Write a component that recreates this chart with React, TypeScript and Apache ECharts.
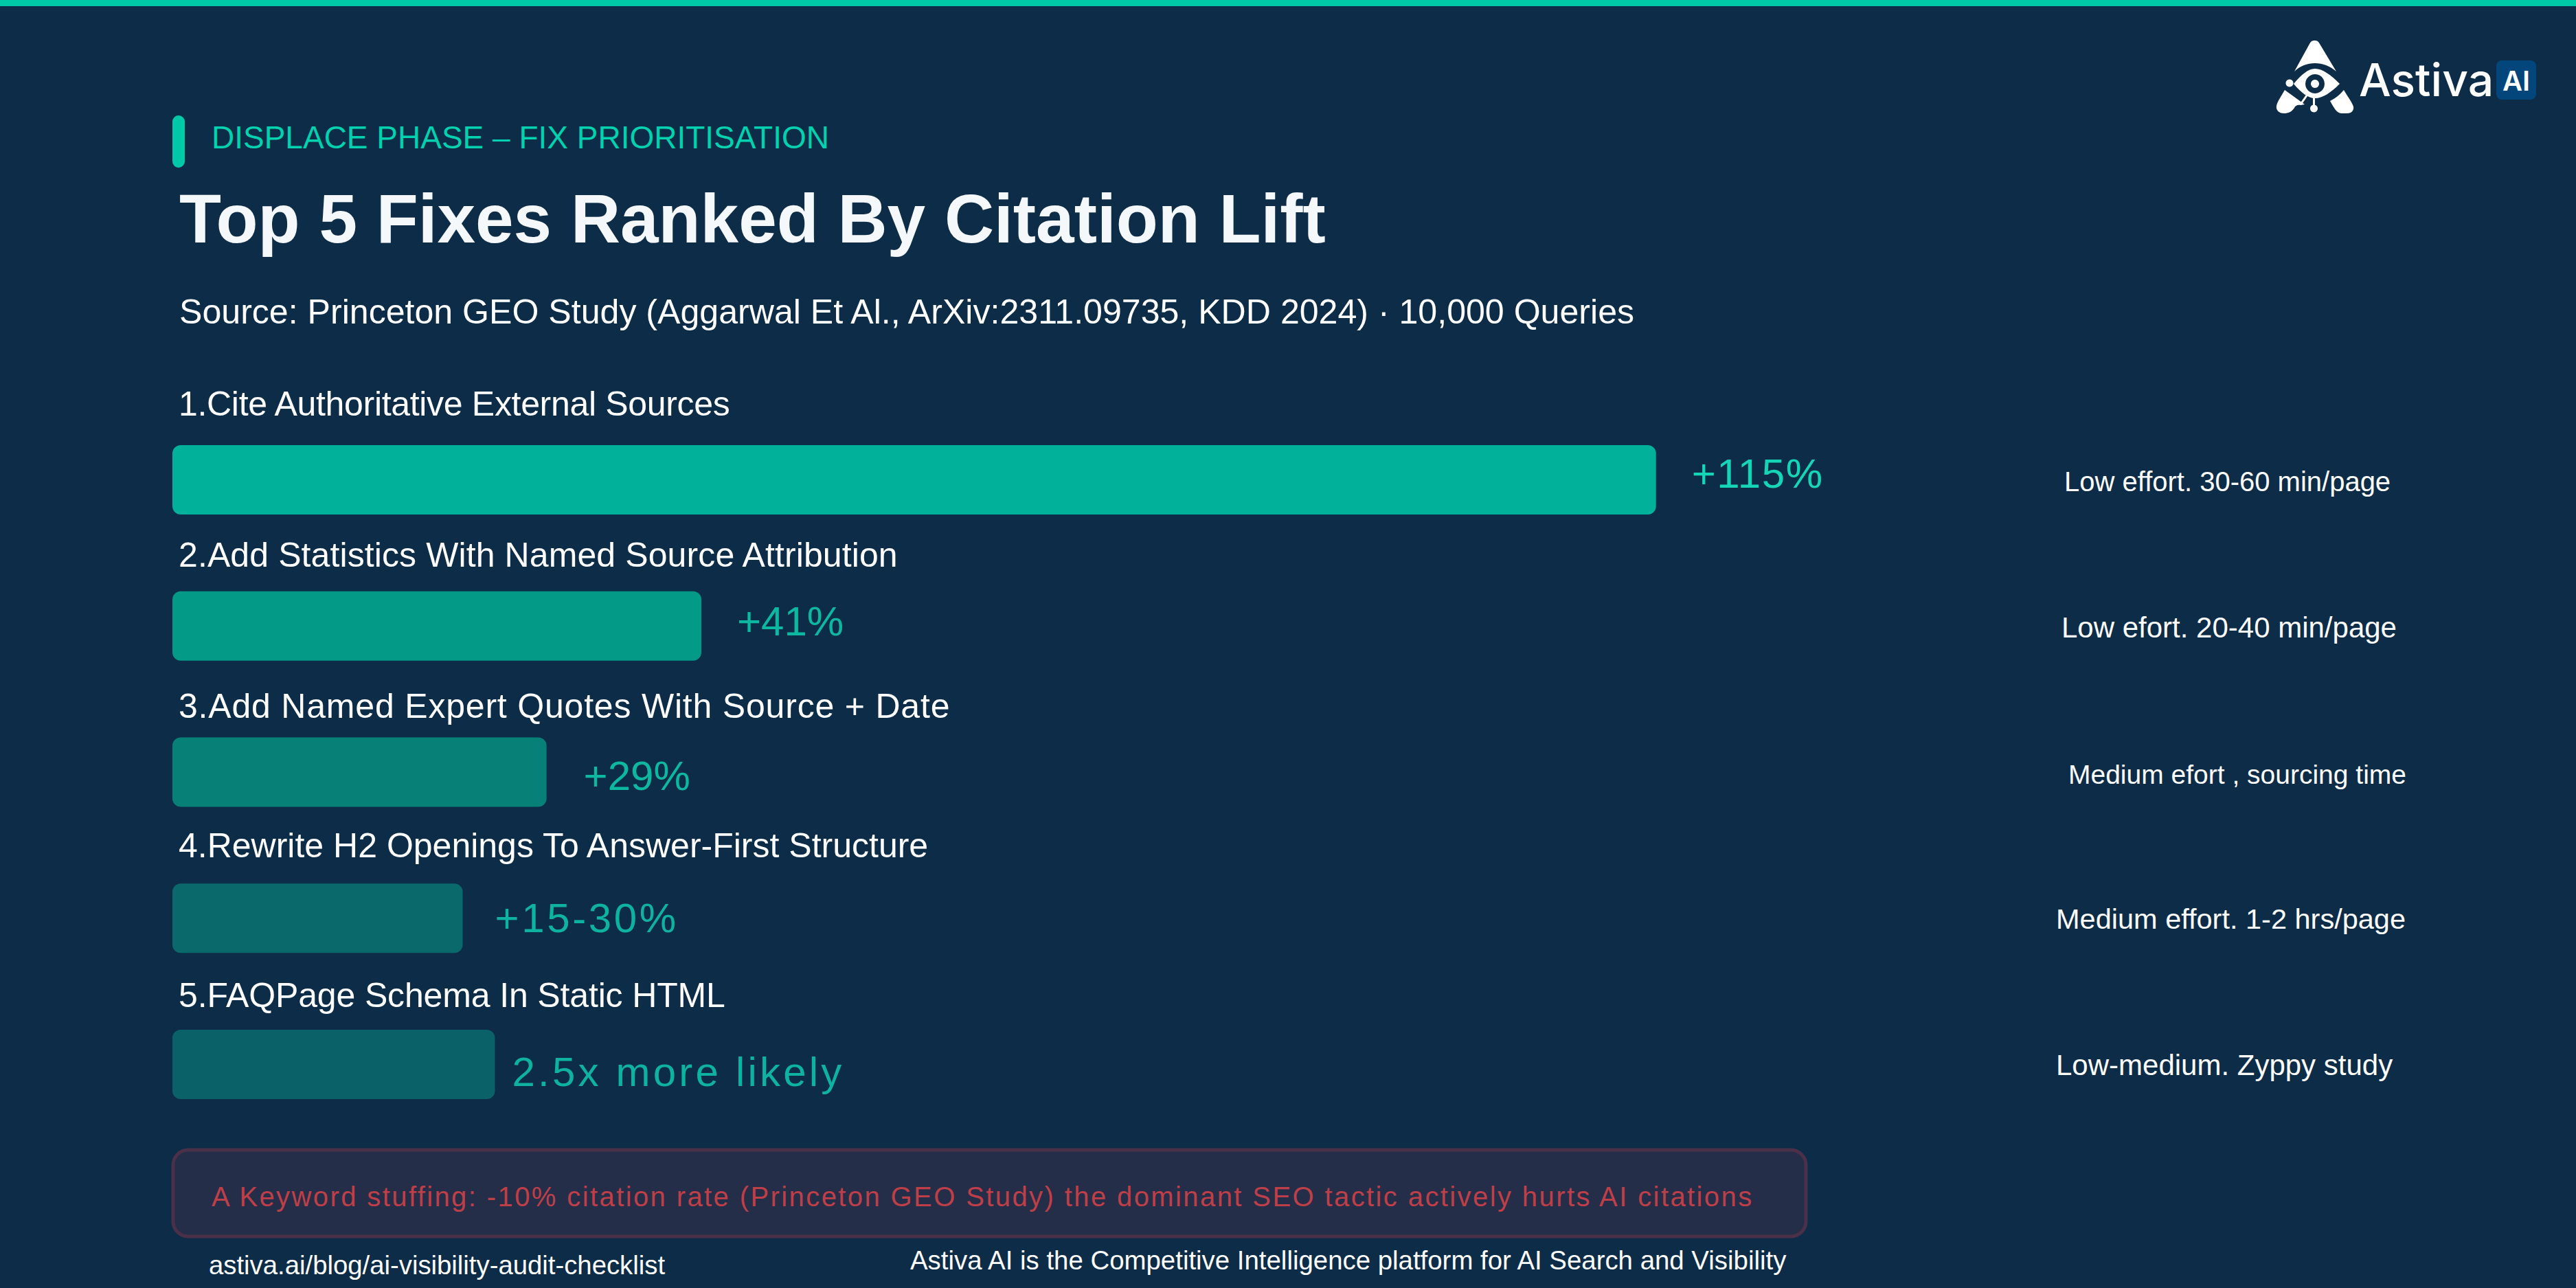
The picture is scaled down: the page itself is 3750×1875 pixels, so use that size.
import React, { useEffect, useRef } from "react";
import * as echarts from "echarts";

const categories = [
  "1.Cite Authoritative External Sources",
  "2.Add Statistics With Named Source Attribution",
  "3.Add Named Expert Quotes With Source + Date",
  "4.Rewrite H2 Openings To Answer-First Structure",
  "5.FAQPage Schema In Static HTML",
];
const barValues = [115, 41, 29, 22.5, 25];
const valueLabels = ["+115%", "+41%", "+29%", "+15-30%", "2.5x more likely"];
const effortNotes = [
  "Low effort. 30-60 min/page",
  "Low efort. 20-40 min/page",
  "Medium efort , sourcing time",
  "Medium effort. 1-2 hrs/page",
  "Low-medium. Zyppy study",
];

// layout, kept apart from the values
const barColors = ["#02B199", "#039B88", "#078178", "#09696B", "#0A6268"];
const labelColors = ["#14D6B6", "#0DB8A0", "#0DB8A0", "#0DB39E", "#0DB39E"];
const labelGaps = [52, 52, 54, 47, 25];
const labelShifts = [-9, -7, 5, 0, 11];
const titleY = [588, 808, 1028, 1231, 1449];
const noteX = [3005, 3001, 3011, 2993, 2993];
const noteY = [701, 913, 1127, 1337, 1550];
const noteSizes = [40, 42, 39, 41.5, 42];

const ALERT = "A Keyword stuffing: -10% citation rate (Princeton GEO Study) the dominant SEO tactic actively hurts AI citations";

const spacing: Record<string, number> = {
  "+115%": 1.6,
  "+15-30%": 3.6,
  "2.5x more likely": 4.2,
  [categories[0]]: -0.32,
  [categories[1]]: 0.1,
  [categories[2]]: 0.8,
  [categories[4]]: -0.15,
  [ALERT]: 2.4,
};

const BG = "#0D2C47";
const SANS = '"Liberation Sans", Arial, sans-serif';

const logoPath =
  "M3369.5 59 C3373 59 3375 60 3377 64 L3401 104 C3392 96 3381 92 3370 92 C3359 92 3348 96 3340 104 L3362 64 C3364 60 3366 59 3369.5 59 Z " +
  "M3339 122 C3350 109 3360 100 3370 100 C3381 100 3393 109 3406 122 C3393 135 3381 143 3370 143 C3360 143 3350 135 3339 122 Z " +
  "M3326 131 L3355 152 L3349 153 C3345 152 3341 154 3340 157 C3336 163 3331 165 3325 165 C3317 165 3313 160 3314 154 C3315 148 3321 140 3326 131 Z " +
  "M3412 131 C3418 141 3424 149 3426 155 C3427 161 3423 165 3417 165 L3409 165 C3403 165 3399 160 3392 147 C3400 143 3406 138 3412 131 Z";
echarts.graphic.registerShape("astivaMark", echarts.graphic.extendPath(logoPath, {}));

const label = (text: string, x: number, y: number, size: number, fill: string, weight = "normal", family = SANS) => ({
  type: "text",
  silent: true,
  style: { text, x, y, fill, fontSize: size, fontWeight: weight, fontFamily: family, textVerticalAlign: "middle" },
});

export default function App() {
  const chartRef = useRef<HTMLDivElement>(null);

  useEffect(() => {
    if (!chartRef.current) return;
    const chart = echarts.init(chartRef.current, undefined, { renderer: "svg" });

    chart.setOption({
      animation: false,
      backgroundColor: BG,
      grid: { left: 251, top: 592, width: 2817, height: 1064 },
      xAxis: { type: "value", min: 0, max: 150, show: false },
      yAxis: { type: "category", inverse: true, data: categories, show: false },
      series: [
        {
          type: "bar",
          barWidth: 101,
          data: barValues.map((value, i) => ({
            value,
            itemStyle: { color: barColors[i], borderRadius: 12 },
            label: {
              show: true,
              position: "right",
              distance: labelGaps[i],
              offset: [0, labelShifts[i]],
              formatter: valueLabels[i],
              color: labelColors[i],
              fontSize: 60,
              fontFamily: SANS,
            },
          })),
        },
      ],
      graphic: [
        { type: "rect", silent: true, shape: { x: 0, y: 0, width: 3750, height: 9 }, style: { fill: "#00C9A7" } },
        { type: "rect", silent: true, shape: { x: 251, y: 168, width: 18, height: 76, r: 9 }, style: { fill: "#00C9A7" } },
        label("DISPLACE PHASE – FIX PRIORITISATION", 308, 200, 46, "#00D1AE"),
        label("Top 5 Fixes Ranked By Citation Lift", 261, 318, 99.9, "#F5F8FA", "bold"),
        label("Source: Princeton GEO Study (Aggarwal Et Al., ArXiv:2311.09735, KDD 2024) · 10,000 Queries", 261, 454, 50.1, "#FFFFFF"),
        ...categories.map((c, i) => label(c, 260, titleY[i], 50, "#FFFFFF")),
        ...effortNotes.map((n, i) => label(n, noteX[i], noteY[i], noteSizes[i], "#FFFFFF")),
        {
          type: "rect",
          silent: true,
          shape: { x: 252, y: 1674, width: 2377, height: 126, r: 22 },
          style: { fill: "#252E48", stroke: "#4A3048", lineWidth: 5 },
        },
        label(ALERT, 308, 1742, 40, "#BF3F48"),
        label("astiva.ai/blog/ai-visibility-audit-checklist", 304, 1841, 38.3, "#FFFFFF"),
        label("Astiva AI is the Competitive Intelligence platform for AI Search and Visibility", 1325, 1834, 38.4, "#FFFFFF"),
        // logo
        { type: "astivaMark", silent: true, x: 0, y: 0, style: { fill: "#FFFFFF" } },
        { type: "circle", silent: true, shape: { cx: 3370, cy: 122, r: 14 }, style: { fill: BG } },
        { type: "circle", silent: true, shape: { cx: 3370, cy: 122, r: 6 }, style: { fill: "#FFFFFF" } },
        { type: "circle", silent: true, shape: { cx: 3333, cy: 121, r: 5.5 }, style: { fill: "#FFFFFF" } },
        { type: "circle", silent: true, shape: { cx: 3368.5, cy: 158, r: 5.5 }, style: { fill: "#FFFFFF" } },
        { type: "line", silent: true, shape: { x1: 3368.5, y1: 142, x2: 3368.5, y2: 156 }, style: { stroke: "#FFFFFF", lineWidth: 3 } },
        { type: "line", silent: true, shape: { x1: 3358, y1: 139, x2: 3349, y2: 152 }, style: { stroke: "#FFFFFF", lineWidth: 3 } },
        label("Astiva", 3434, 116, 66, "#FFFFFF", "500", "Inter"),
        { type: "rect", silent: true, shape: { x: 3634, y: 88, width: 58, height: 57, r: 8 }, style: { fill: "#03467C" } },
        label("AI", 3643, 117, 40, "#FFFFFF", "600", "Inter"),
      ],
    });

    // zrender has no letter spacing of its own
    chartRef.current.querySelectorAll("text").forEach((node) => {
      const gap = spacing[node.textContent || ""];
      if (gap) node.setAttribute("letter-spacing", String(gap));
    });

    return () => {
      chart.dispose();
    };
  }, []);

  return <div ref={chartRef} style={{ position: "fixed", left: 0, top: 0, width: 3750, height: 1875 }} />;
}
